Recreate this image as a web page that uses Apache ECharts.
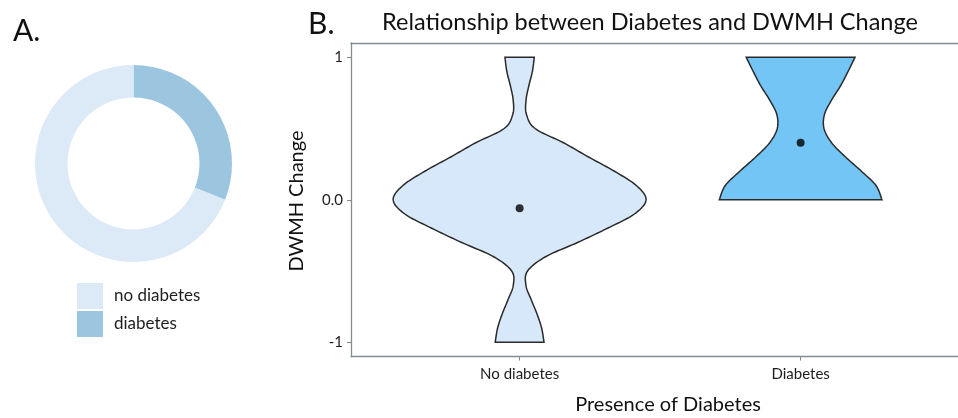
<!DOCTYPE html>
<html>
<head>
<meta charset="utf-8">
<script src="https://cdn.jsdelivr.net/npm/echarts@6/dist/echarts.min.js"></script>
<style>
  html, body { margin: 0; padding: 0; background: #ffffff; }
  #chart { width: 958px; height: 418px; }
</style>
</head>
<body>
<div id="chart"></div>
<script>
// Panel A: share of participants with / without diabetes
const pieLabels = ['no diabetes', 'diabetes'];
const pieValues = [69, 31];

// Panel B: groups on the x axis
const categories = ['No diabetes', 'Diabetes'];
const groupPositions = [1, 2];
const groupMeans = [-0.06, 0.40];

// Violin outlines: DWMH change level and relative density at that level
const noDiabetesLevels = [-1.0, -0.9, -0.8, -0.7, -0.6, -0.5, -0.4, -0.3, -0.2, -0.1, 0.0,
                          0.1, 0.2, 0.3, 0.4, 0.5, 0.6, 0.7, 0.8, 0.9, 1.0];
const noDiabetesDensity = [0.193, 0.174, 0.137, 0.091, 0.050, 0.063, 0.205, 0.458, 0.695, 0.908, 1.000,
                           0.923, 0.750, 0.545, 0.347, 0.122, 0.054, 0.051, 0.073, 0.101, 0.116];
const diabetesLevels = [0.0, 0.1, 0.2, 0.3, 0.4, 0.5, 0.6, 0.7, 0.8, 0.9, 1.0];
const diabetesDensity = [0.643, 0.596, 0.481, 0.355, 0.245, 0.185, 0.189, 0.245, 0.316, 0.375, 0.430];

// Y axis tick values and their printed labels
const yTickValues = [-1, 0, 1];
const yTickLabels = ['-1', '0.0', '1'];

const FONT = 'Lato, "Open Sans", sans-serif';
const AXIS_COLOR = '#848b94';
const violinGroups = [
  { levels: noDiabetesLevels, density: noDiabetesDensity, fill: '#d6e8f9' },
  { levels: diabetesLevels, density: diabetesDensity, fill: '#73c5f6' }
];
const VIOLIN_HALF_WIDTH = 0.45;

// Catmull-Rom sampling so the outline is drawn as a smooth curve
function smoothLine(pts, steps) {
  const out = [];
  const n = pts.length;
  for (let i = 0; i < n - 1; i++) {
    const p0 = pts[Math.max(i - 1, 0)];
    const p1 = pts[i];
    const p2 = pts[i + 1];
    const p3 = pts[Math.min(i + 2, n - 1)];
    for (let s = 0; s < steps; s++) {
      const t = s / steps, t2 = t * t, t3 = t2 * t;
      const f = (a, b, c, d) => 0.5 * ((2 * b) + (-a + c) * t + (2 * a - 5 * b + 4 * c - d) * t2 + (-a + 3 * b - 3 * c + d) * t3);
      out.push([f(p0[0], p1[0], p2[0], p3[0]), f(p0[1], p1[1], p2[1], p3[1])]);
    }
  }
  out.push(pts[n - 1]);
  return out;
}

function renderViolin(params, api) {
  const g = violinGroups[params.dataIndex];
  const xc = api.value(0);
  const right = g.levels.map((lv, i) => api.coord([xc + g.density[i] * VIOLIN_HALF_WIDTH, lv]));
  const left = g.levels.map((lv, i) => api.coord([xc - g.density[i] * VIOLIN_HALF_WIDTH, lv]));
  const rightCurve = smoothLine(right, 12);
  const leftCurve = smoothLine(left, 12).reverse();
  return {
    type: 'polygon',
    shape: { points: rightCurve.concat(leftCurve) },
    style: { fill: g.fill, stroke: '#2a2a2a', lineWidth: 1.5 }
  };
}

const chart = echarts.init(document.getElementById('chart'), null, { renderer: 'canvas' });

chart.setOption({
  animation: false,
  backgroundColor: '#ffffff',
  textStyle: { fontFamily: FONT },
  legend: {
    data: pieLabels,
    orient: 'vertical',
    left: 77,
    top: 283,
    padding: 0,
    itemWidth: 26,
    itemHeight: 26,
    itemGap: 2,
    icon: 'rect',
    selectedMode: false,
    textStyle: { fontFamily: FONT, fontSize: 17, color: '#1e1e1e', padding: [0, 0, 0, 6] }
  },
  grid: {
    left: 351,
    top: 43,
    right: 0,
    height: 313.5,
    containLabel: false
  },
  xAxis: [
    {
      type: 'value',
      position: 'bottom',
      min: 0.4,
      max: 2.56,
      splitLine: { show: false },
      axisLine: { show: true, onZero: false, lineStyle: { color: AXIS_COLOR, width: 1.3 } },
      axisTick: { show: true, length: 4, customValues: groupPositions, lineStyle: { color: AXIS_COLOR } },
      axisLabel: {
        customValues: groupPositions,
        formatter: v => categories[groupPositions.indexOf(v)] || '',
        fontFamily: FONT,
        fontSize: 15,
        color: '#1e1e1e',
        margin: 10
      }
    },
    {
      // top frame line of the panel
      type: 'value',
      position: 'top',
      min: 0.4,
      max: 2.56,
      splitLine: { show: false },
      axisLine: { show: true, onZero: false, lineStyle: { color: AXIS_COLOR, width: 1.3 } },
      axisTick: { show: false },
      axisLabel: { show: false }
    }
  ],
  yAxis: {
    type: 'value',
    min: -1.1,
    max: 1.1,
    splitLine: { show: false },
    axisLine: { show: true, onZero: false, lineStyle: { color: AXIS_COLOR, width: 1.3 } },
    axisTick: { show: true, length: 4, customValues: yTickValues, lineStyle: { color: AXIS_COLOR } },
    axisLabel: {
      customValues: yTickValues,
      formatter: v => yTickLabels[yTickValues.indexOf(v)] || '',
      fontFamily: FONT,
      fontSize: 15,
      color: '#1e1e1e',
      margin: 8
    }
  },
  series: [
    {
      type: 'pie',
      center: [133.5, 163.5],
      radius: [66, 98.5],
      startAngle: 90,
      clockwise: true,
      silent: true,
      label: { show: false },
      labelLine: { show: false },
      itemStyle: { borderWidth: 0 },
      data: [
        { name: pieLabels[1], value: pieValues[1], itemStyle: { color: '#9cc6e0' } },
        { name: pieLabels[0], value: pieValues[0], itemStyle: { color: '#dce9f6' } }
      ]
    },
    {
      type: 'custom',
      renderItem: renderViolin,
      encode: { x: 0 },
      silent: true,
      data: groupPositions.map(p => [p])
    },
    {
      type: 'scatter',
      symbol: 'circle',
      symbolSize: 8,
      silent: true,
      itemStyle: { color: '#000000' },
      data: groupPositions.map((p, i) => [p, groupMeans[i]])
    }
  ],
  graphic: [
    { type: 'text', x: 13, y: 31, style: { text: 'A.', font: '30px ' + FONT, fill: '#111', textVerticalAlign: 'middle' } },
    { type: 'text', x: 308, y: 24, style: { text: 'B.', font: '30px ' + FONT, fill: '#111', textVerticalAlign: 'middle' } },
    { type: 'text', x: 650, y: 22, style: { text: 'Relationship between Diabetes and DWMH Change', font: '23.5px ' + FONT, fill: '#111', textAlign: 'center', textVerticalAlign: 'middle' } },
    { type: 'text', x: 297, y: 201, rotation: Math.PI / 2, style: { text: 'DWMH Change', font: '20px ' + FONT, fill: '#111', textAlign: 'center', textVerticalAlign: 'middle' } },
    { type: 'text', x: 668, y: 405, style: { text: 'Presence of Diabetes', font: '20px ' + FONT, fill: '#111', textAlign: 'center', textVerticalAlign: 'middle' } }
  ]
});
</script>
</body>
</html>
